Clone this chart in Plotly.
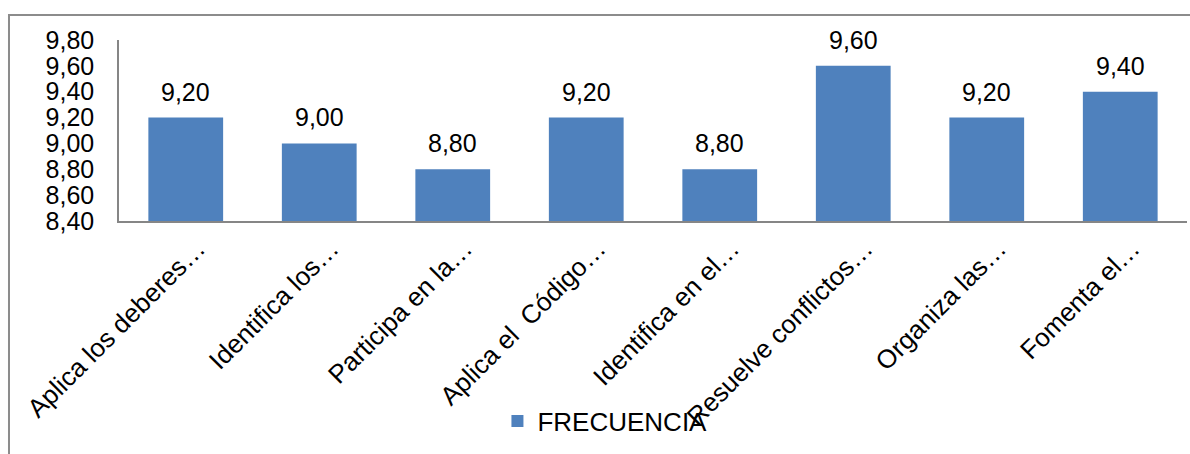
import plotly.graph_objects as go

categories = ["Aplica los deberes…", "Identifica los…", "Participa en la…",
              "Aplica el\u00a0 Código…", "Identifica en el…", "Resuelve conflictos…",
              "Organiza las…", "Fomenta el…"]
frecuencia = [9.20, 9.00, 8.80, 9.20, 8.80, 9.60, 9.20, 9.40]
y_ticks = [8.40, 8.60, 8.80, 9.00, 9.20, 9.40, 9.60, 9.80]

FONT = "Arial, Liberation Sans, sans-serif"
FS = 25
BLUE = "#4F81BD"
AXIS = "#868686"

fig = go.Figure()
fig.add_trace(go.Bar(
    x=categories, y=frecuencia, name="FRECUENCIA",
    marker=dict(color=BLUE, line=dict(width=0)),
))

for c, v in zip(categories, frecuencia):
    fig.add_annotation(x=c, y=v, text=f"{v:.2f}".replace(".", ","),
                       showarrow=False, yanchor="bottom", yshift=10,
                       font=dict(family=FONT, size=FS, color="#000"))

fig.update_layout(
    width=1190, height=454,
    margin=dict(l=119, r=3, t=40, b=233),
    paper_bgcolor="white", plot_bgcolor="white",
    separators=",.",
    bargap=0.44,
    font=dict(family=FONT, size=FS, color="#000"),
    showlegend=True,
    legend=dict(orientation="h", x=0.455, xanchor="center", y=-1.105, yanchor="middle",
                font=dict(family=FONT, size=26, color="#000"),
                itemwidth=30, bgcolor="rgba(0,0,0,0)"),
    xaxis=dict(tickangle=-45, showline=True, linecolor=AXIS, linewidth=2,
               showgrid=False, ticks="", tickfont=dict(family=FONT, size=26),
               ticklabelshift=12),
    yaxis=dict(range=[8.4, 9.8], tickvals=y_ticks, tickformat=".2f",
               showline=True, linecolor=AXIS, linewidth=1.5, showgrid=False,
               zeroline=False, ticks="", ticklabelstandoff=18,
               tickfont=dict(family=FONT, size=FS)),
    shapes=[dict(type="rect", xref="paper", yref="paper",
                 x0=-0.103, x1=1.05, y0=-1.6, y1=1.138,
                 line=dict(color="#8c8c8c", width=2), fillcolor="rgba(0,0,0,0)",
                 layer="below")],
)

fig.write_html("out.html")
